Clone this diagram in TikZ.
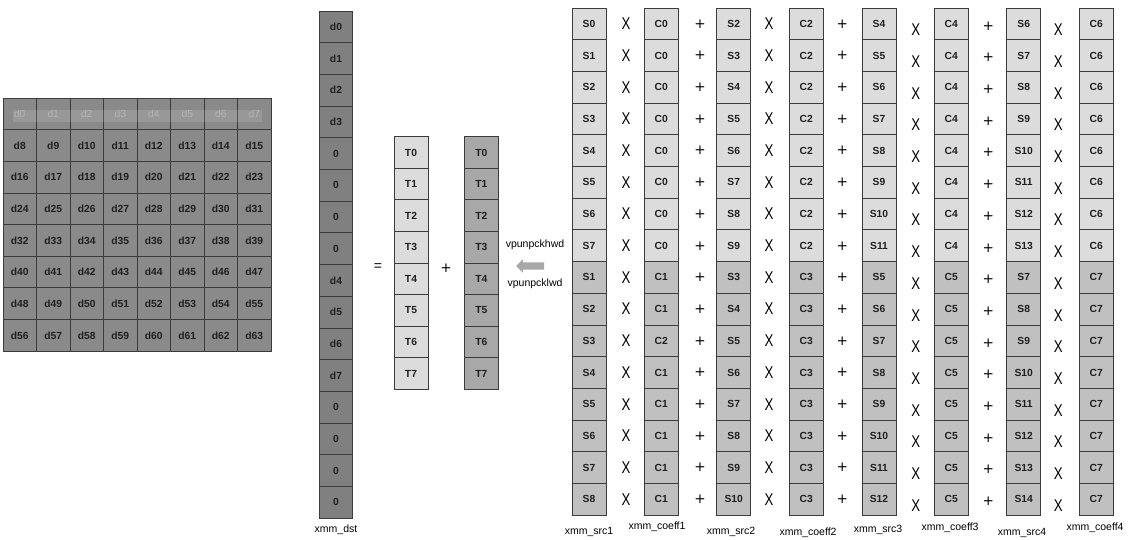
\documentclass[tikz,border=0pt]{standalone}
\usepackage{fontspec}
\setmainfont{Liberation Sans}
\newfontfamily\addfont{DejaVu Sans}[Scale=0.8]
\usetikzlibrary{shapes.arrows}

\definecolor{gridgray}{HTML}{8A8A8A}
\definecolor{dstgray}{HTML}{808080}
\definecolor{lightcell}{HTML}{DCDCDC}
\definecolor{tapcell}{HTML}{A8A8A8}
\definecolor{lowcell}{HTML}{C0C0C0}
\definecolor{edgegray}{HTML}{3C3C3C}
\definecolor{fadetext}{HTML}{ACACAC}

\begin{document}
\begin{tikzpicture}[x=1pt,y=-1pt]
\tikzset{
  cell/.style={draw=edgegray,line width=0.9pt,minimum width=34pt,minimum height=31.7pt,
    inner sep=0pt,text=black!88,font=\fontsize{10.3}{11}\selectfont\bfseries},
  gridcell/.style={cell,fill=gridgray,minimum width=33.5pt,minimum height=31.65pt},
  dstcell/.style={cell,fill=dstgray,minimum width=33.5pt},
  regname/.style={inner sep=1pt,font=\fontsize{10.5}{11}\selectfont},
  opsym/.style={inner sep=0pt,font=\fontsize{14}{14}\selectfont},
  mulsym/.style={inner sep=0pt,font=\fontsize{17}{17}\selectfont,xscale=0.78},
  addsym/.style={inner sep=0pt,font=\fontsize{17}{17}\selectfont\addfont}
}
\useasboundingbox (0,0) rectangle (1134,540);

% 8x8 block, first row faded
\foreach \r in {0,...,7}
  \foreach \c in {0,...,7} {
    \pgfmathtruncatemacro\k{8*\r+\c}
    \node[gridcell] (g-\k) at ({19.75+33.5*\c},{113.85+31.65*\r}) {d\k};
  }
\foreach \c in {0,...,7}
  \node[gridcell,font=\fontsize{10.3}{11}\selectfont,text=fadetext] (g-\c) at ({19.75+33.5*\c},113.85) {d\c};
\fill[white,opacity=0.12] (13,110) rectangle (262,122);

% destination register
\foreach \v [count=\i from 0] in {d0,d1,d2,d3,0,0,0,0,d4,d5,d6,d7,0,0,0,0}
  \node[dstcell] (dst-\i) at (336,{26.85+31.7*\i}) {\v};
\node[regname] (dst-name) at (336,530) {xmm\_dst};

\node[opsym] (eq) at (378,267) {=};

% two temporary sums
\foreach \i in {0,...,7} {
  \node[cell,fill=lightcell] (ta-\i) at (411,{152.5+31.6*\i}) {T\i};
  \node[cell,fill=tapcell] (tb-\i) at (481.3,{152.5+31.6*\i}) {T\i};
}
\node[addsym] (plus-t) at (446,268) {+};

\node[regname] (hi-op) at (535,245) {vpunpckhwd};
\node[single arrow,fill=tapcell,shape border rotate=180,minimum height=28pt,
  minimum width=13pt,inner xsep=0pt,inner ysep=3.5pt,single arrow head extend=3pt] (unpack) at (532,266) {};
\node[regname] (lo-op) at (535,284) {vpunpcklwd};

% source and coefficient registers
\foreach \reg/\x/\vals in {
  src1/589/{S0,S1,S2,S3,S4,S5,S6,S7,S1,S2,S3,S4,S5,S6,S7,S8},
  coeff1/661.3/{C0,C0,C0,C0,C0,C0,C0,C0,C1,C1,C2,C1,C1,C1,C1,C1},
  src2/733.7/{S2,S3,S4,S5,S6,S7,S8,S9,S3,S4,S5,S6,S7,S8,S9,S10},
  coeff2/806.3/{C2,C2,C2,C2,C2,C2,C2,C2,C3,C3,C3,C3,C3,C3,C3,C3},
  src3/879/{S4,S5,S6,S7,S8,S9,S10,S11,S5,S6,S7,S8,S9,S10,S11,S12},
  coeff3/951.3/{C4,C4,C4,C4,C4,C4,C4,C4,C5,C5,C5,C5,C5,C5,C5,C5},
  src4/1023.7/{S6,S7,S8,S9,S10,S11,S12,S13,S7,S8,S9,S10,S11,S12,S13,S14},
  coeff4/1096.3/{C6,C6,C6,C6,C6,C6,C6,C6,C7,C7,C7,C7,C7,C7,C7,C7}}
  \foreach \v [count=\i from 0] in \vals {
    \ifnum\i<8 \def\tone{lightcell}\else\def\tone{lowcell}\fi
    \node[cell,fill=\tone] (\reg-\i) at (\x,{23.85+31.7*\i}) {\v};
  }

% operators between the registers
\foreach \i in {0,...,15} {
  \node[mulsym] (mul1-\i) at (626,{23.85+31.7*\i}) {X};
  \node[addsym] (add1-\i) at (700,{23.85+31.7*\i}) {+};
  \node[mulsym] (mul2-\i) at (769,{23.85+31.7*\i}) {X};
  \node[addsym] (add2-\i) at (842.3,{23.85+31.7*\i}) {+};
  \node[mulsym] (mul3-\i) at (915.7,{29.85+31.7*\i}) {X};
  \node[addsym] (add3-\i) at (988.3,{25.85+31.7*\i}) {+};
  \node[mulsym] (mul4-\i) at (1058.3,{29.85+31.7*\i}) {X};
}

% register names
\node[regname] (src1-name) at (589,532) {xmm\_src1};
\node[regname] (coeff1-name) at (657,527) {xmm\_coeff1};
\node[regname] (src2-name) at (731,532) {xmm\_src2};
\node[regname] (coeff2-name) at (808,533) {xmm\_coeff2};
\node[regname] (src3-name) at (878,530) {xmm\_src3};
\node[regname] (coeff3-name) at (950,527.5) {xmm\_coeff3};
\node[regname] (src4-name) at (1022,533) {xmm\_src4};
\node[regname] (coeff4-name) at (1095,528) {xmm\_coeff4};
\end{tikzpicture}
\end{document}
